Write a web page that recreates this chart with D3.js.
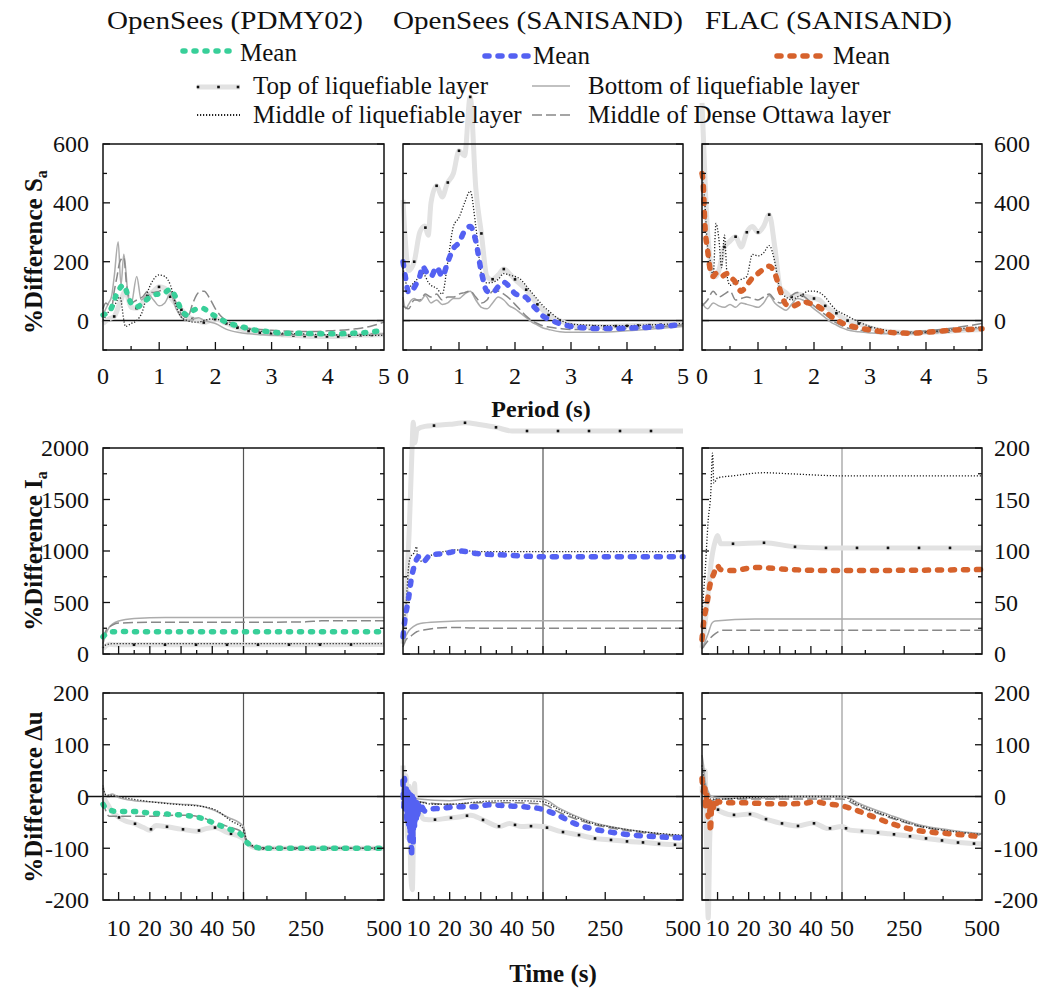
<!DOCTYPE html>
<html>
<head>
<meta charset="utf-8">
<script src="https://cdn.jsdelivr.net/npm/d3@7"></script>
<style>
  body { margin: 0; background: #fff; }
  svg { display: block; }
  text { font-family: "Liberation Serif", "Times New Roman", serif; fill: #111; }
</style>
</head>
<body>
<div id="chart"></div>
<script>
// ---- titles / legend ----
const modelTitles = ["OpenSees (PDMY02)", "OpenSees (SANISAND)", "FLAC (SANISAND)"];
const layerNames = {
  top: "Top of liquefiable layer",
  bot: "Bottom of liquefiable layer",
  mid: "Middle of liquefiable layer",
  ott: "Middle of Dense Ottawa layer"
};

// ---- tick labels ----
const saTicks = [0, 200, 400, 600];
const periodTicks = [0, 1, 2, 3, 4, 5];
const iaTicksBig = [0, 500, 1000, 1500, 2000];
const iaTicksSmall = [0, 50, 100, 150, 200];
const duTicks = [-200, -100, 0, 100, 200];
const timeTicks = [10, 20, 30, 40, 50, 250, 500];
const timeMinor = [15, 25, 35, 45, 125, 375];

// ---- %Difference Sa vs period (s) ----
const saPdmyMean = [[0,19],[0.13,36],[0.25,93],[0.37,121],[0.43,93],[0.52,53],[0.61,47],[0.73,64],[0.9,87],[1.08,93],[1.2,106],[1.29,81],[1.41,31],[1.5,19],[1.62,36],[1.77,42],[1.89,27],[2.01,14],[2.21,-7],[2.45,-20],[2.69,-32],[2.93,-37],[3.23,-43],[3.52,-43],[3.82,-45],[4.12,-45],[4.42,-43],[4.71,-40],[5,-32]];
const saPdmyTop = [[0,-10],[0.1,5],[0.2,14],[0.3,60],[0.4,100],[0.5,45],[0.6,42],[0.7,60],[0.8,85],[0.9,100],[1,115],[1.1,110],[1.2,80],[1.3,55],[1.4,36],[1.5,15],[1.6,5],[1.7,-2],[1.8,-7],[1.9,0],[2,5],[2.2,-10],[2.4,-25],[2.6,-36],[2.8,-42],[3,-46],[3.25,-49],[3.5,-52],[3.75,-54],[4,-54],[4.25,-54],[4.5,-50],[4.75,-49],[5,-48]];
const saPdmyMid = [[0,0],[0.1,30],[0.2,50],[0.3,80],[0.4,-20],[0.5,-10],[0.6,0],[0.7,30],[0.8,100],[0.9,140],[1,155],[1.1,150],[1.2,120],[1.3,50],[1.4,10],[1.5,0],[1.6,-5],[1.7,-5],[1.8,0],[1.9,5],[2,5],[2.1,0],[2.2,-10],[2.4,-22],[2.6,-30],[2.8,-36],[3,-40],[3.5,-45],[4,-48],[4.5,-50],[5,-50]];
const saPdmyBot = [[0,20],[0.05,40],[0.1,60],[0.15,80],[0.2,150],[0.27,268],[0.32,120],[0.37,225],[0.45,80],[0.5,55],[0.6,150],[0.68,70],[0.8,90],[0.9,70],[1,50],[1.1,60],[1.2,90],[1.3,40],[1.4,10],[1.5,0],[1.6,5],[1.7,10],[1.8,0],[1.9,-5],[2,-10],[2.2,-30],[2.4,-40],[2.6,-45],[2.8,-48],[3,-50],[3.5,-50],[4,-50],[4.5,-50],[5,-45]];
const saPdmyOtt = [[0,40],[0.05,60],[0.1,50],[0.15,40],[0.2,100],[0.25,150],[0.3,200],[0.37,215],[0.42,120],[0.5,60],[0.6,70],[0.7,80],[0.8,100],[0.9,95],[1,100],[1.1,105],[1.2,100],[1.3,60],[1.4,20],[1.5,10],[1.6,60],[1.7,95],[1.8,100],[1.9,75],[2,40],[2.1,15],[2.2,0],[2.3,-10],[2.4,-18],[2.6,-26],[2.8,-30],[3,-33],[3.5,-37],[3.75,-37],[4,-35],[4.5,-28],[4.75,-20],[5,-5]];

const saSaniMean = [[0,200],[0.05,140],[0.1,95],[0.15,100],[0.2,112],[0.25,130],[0.3,150],[0.35,185],[0.4,170],[0.45,155],[0.5,150],[0.6,182],[0.7,150],[0.8,200],[0.9,245],[1,265],[1.1,305],[1.2,320],[1.3,270],[1.4,165],[1.5,100],[1.6,95],[1.7,115],[1.8,130],[1.9,115],[2,92],[2.1,85],[2.2,78],[2.3,55],[2.4,35],[2.5,15],[2.6,5],[2.8,-10],[3,-20],[3.25,-25],[3.5,-27],[3.75,-27],[4,-26],[4.25,-24],[4.5,-22],[4.75,-18],[5,-12]];
const saSaniTop = [[0,410],[0.05,250],[0.1,170],[0.2,200],[0.3,300],[0.39,321],[0.45,290],[0.5,400],[0.6,458],[0.7,420],[0.79,466],[0.9,500],[1,577],[1.1,560],[1.2,760],[1.3,450],[1.4,296],[1.5,150],[1.59,139],[1.7,155],[1.8,175],[1.9,160],[2,140],[2.2,105],[2.4,55],[2.6,19],[2.8,0],[3,-15],[3.25,-20],[3.5,-20],[4,-18],[4.5,-15],[5,-12]];
const saSaniMid = [[0,180],[0.05,130],[0.1,110],[0.15,120],[0.2,130],[0.25,140],[0.3,150],[0.35,160],[0.4,150],[0.45,130],[0.5,120],[0.6,110],[0.7,90],[0.8,200],[0.9,320],[1,350],[1.1,400],[1.2,440],[1.3,320],[1.4,160],[1.5,128],[1.6,130],[1.7,140],[1.8,160],[1.9,155],[2,150],[2.1,140],[2.2,118],[2.3,95],[2.4,72],[2.5,50],[2.6,33],[2.8,3],[3,-12],[3.25,-15],[3.5,-17],[4,-17],[4.5,-14],[5,-10]];
const saSaniBot = [[0,80],[0.05,40],[0.1,55],[0.15,70],[0.2,75],[0.3,65],[0.4,85],[0.5,60],[0.6,70],[0.7,55],[0.8,60],[0.9,75],[1,75],[1.1,90],[1.2,100],[1.3,70],[1.4,45],[1.5,40],[1.6,60],[1.7,80],[1.8,70],[1.9,50],[2,40],[2.1,25],[2.2,10],[2.3,-5],[2.4,-15],[2.5,-25],[2.6,-30],[2.8,-38],[3,-40],[3.5,-40],[4,-35],[4.5,-28],[5,-20]];
const saSaniOtt = [[0,50],[0.1,40],[0.2,70],[0.3,70],[0.4,90],[0.5,80],[0.6,90],[0.7,70],[0.8,80],[0.9,80],[1,90],[1.1,95],[1.2,100],[1.3,80],[1.4,60],[1.5,70],[1.6,100],[1.7,100],[1.8,90],[1.9,75],[2,55],[2.1,35],[2.2,15],[2.3,0],[2.4,-10],[2.5,-18],[2.6,-22],[2.8,-27],[3,-30],[3.5,-30],[4,-27],[4.5,-22],[5,-15]];

const saFlacMean = [[0,500],[0.02,470],[0.05,330],[0.1,240],[0.15,170],[0.2,150],[0.25,160],[0.3,160],[0.35,150],[0.4,155],[0.45,160],[0.5,150],[0.6,130],[0.7,100],[0.8,120],[0.9,145],[1,160],[1.1,175],[1.2,185],[1.3,160],[1.4,100],[1.5,55],[1.6,48],[1.7,55],[1.8,65],[1.9,60],[2,55],[2.1,45],[2.2,30],[2.3,15],[2.4,2],[2.5,-8],[2.6,-15],[2.8,-25],[3,-32],[3.25,-38],[3.5,-42],[3.75,-43],[4,-40],[4.25,-36],[4.5,-32],[4.75,-30],[5,-28]];
const saFlacTop = [[0,740],[0.03,600],[0.06,450],[0.1,300],[0.15,200],[0.2,150],[0.25,150],[0.3,170],[0.4,250],[0.5,270],[0.6,285],[0.7,250],[0.8,300],[0.9,320],[1,300],[1.1,320],[1.2,360],[1.3,250],[1.4,110],[1.5,95],[1.6,80],[1.7,90],[1.8,85],[1.9,80],[2,75],[2.1,70],[2.2,50],[2.3,35],[2.4,25],[2.5,10],[2.6,0],[2.8,-10],[3,-25],[3.25,-35],[3.5,-40],[3.75,-42],[4,-40],[4.25,-38],[4.5,-35],[4.75,-32],[5,-30]];
const saFlacMid = [[0,500],[0.05,400],[0.1,250],[0.15,200],[0.2,150],[0.25,330],[0.3,280],[0.35,180],[0.4,290],[0.45,150],[0.5,120],[0.6,130],[0.7,140],[0.8,150],[0.9,225],[1,220],[1.1,230],[1.2,255],[1.3,200],[1.4,100],[1.5,80],[1.6,70],[1.7,80],[1.8,90],[1.9,100],[2,100],[2.1,95],[2.2,80],[2.3,55],[2.4,35],[2.5,25],[2.6,15],[2.8,-5],[3,-20],[3.25,-32],[3.5,-40],[3.75,-42],[4,-40],[4.25,-35],[4.5,-30],[4.75,-25],[5,-22]];
const saFlacBot = [[0,60],[0.1,40],[0.2,60],[0.3,50],[0.4,45],[0.5,55],[0.6,45],[0.7,60],[0.8,55],[0.9,50],[1,45],[1.1,60],[1.2,85],[1.3,60],[1.4,45],[1.5,35],[1.6,55],[1.7,75],[1.8,70],[1.9,55],[2,40],[2.1,25],[2.2,10],[2.3,-5],[2.4,-15],[2.5,-25],[2.6,-32],[2.8,-38],[3,-42],[3.25,-45],[3.5,-45],[4,-42],[4.5,-35],[5,-25]];
const saFlacOtt = [[0,50],[0.1,70],[0.2,100],[0.3,80],[0.4,90],[0.5,100],[0.6,70],[0.7,75],[0.8,80],[0.9,75],[1,70],[1.1,80],[1.2,90],[1.3,70],[1.4,60],[1.5,70],[1.6,85],[1.7,95],[1.8,85],[1.9,70],[2,50],[2.1,35],[2.2,20],[2.3,5],[2.4,-8],[2.5,-18],[2.6,-25],[2.8,-32],[3,-37],[3.25,-40],[3.5,-40],[4,-35],[4.5,-25],[5,-10]];

// ---- %Difference Ia vs time (s) ----
const iaPdmyMean = [[5,168],[6,195],[7,210],[8,216],[10,218],[20,216],[50,216],[200,216],[500,216]];
const iaPdmyTop = [[5,50],[6,80],[7,95],[9,90],[15,90],[50,90],[500,92]];
const iaPdmyMid = [[5,60],[6,90],[8,100],[15,100],[50,100],[500,100]];
const iaPdmyBot = [[5,100],[6,200],[7,260],[8,290],[10,320],[15,345],[25,355],[50,355],[500,355]];
const iaPdmyOtt = [[5,150],[6,230],[7,260],[8,280],[10,300],[20,308],[50,308],[250,312],[300,322],[500,322]];

const iaSaniMean = [[5,168],[5.6,330],[6.7,524],[7.8,750],[8.9,880],[10,945],[11.6,900],[13.7,960],[18,975],[23.4,1000],[28.8,975],[38.5,960],[50,945],[500,945]];
const iaSaniTop = [[5,100],[6,500],[7,1200],[7.8,1900],[8.3,2250],[8.8,2050],[9.5,2180],[12,2210],[20,2230],[25,2245],[30,2225],[35,2200],[40,2165],[50,2165],[500,2165]];
const iaSaniMid = [[5,200],[6,500],[7,900],[7.5,945],[8.5,980],[9.4,1042],[9.6,960],[10.5,900],[13,945],[18,993],[22,1010],[30,993],[50,993],[500,993]];
const iaSaniBot = [[5,100],[6,180],[7,230],[8.3,265],[10.5,297],[17,313],[28,323],[500,323]];
const iaSaniOtt = [[5,68],[6,140],[7.3,168],[9.4,216],[11.6,232],[20,258],[33,249],[500,249]];

const iaFlacMean = [[5,14],[5.5,30],[6.6,49],[7.7,69],[8.8,78],[9.9,86],[10.9,82],[14.7,81],[22.3,84],[33,82],[50,81],[500,82]];
const iaFlacTop = [[5,6],[6,30],[7,60],[8,90],[9.3,110],[10,115],[11,107],[14.6,107],[25,108],[35,104],[45,103],[50,103],[500,103]];
const iaFlacMid = [[5,40],[6,80],[7,130],[7.8,155],[8.4,195],[8.8,166],[10,171],[15,173],[25,176],[33,175],[50,173],[500,173]];
const iaFlacBot = [[5,5],[6,12],[7,20],[8.2,30],[9.2,32],[22,34],[500,34]];
const iaFlacOtt = [[5,5],[7.2,14],[9.4,20],[11.6,23],[500,23]];

// ---- %Difference du vs time (s) ----
const duPdmyMean = [[5,-15],[5.6,-20],[9.4,-29],[14.8,-29],[20.2,-32],[25.7,-34],[30.6,-36],[36.5,-42],[40.8,-52],[46.2,-65],[49.3,-74],[58.6,-87],[91,-98],[110,-100],[500,-100]];
const duPdmyTop = [[5,0],[6,-10],[8,-30],[10,-40],[12,-47],[15,-52],[18,-60],[20,-65],[22,-56],[25,-58],[30,-63],[35,-67],[38,-62],[41,-60],[45,-70],[49,-78],[53,-84],[60,-90],[100,-100],[500,-100]];
const duPdmyMid = [[5,16],[6,3],[8,2],[12.5,-3],[20,-10],[30,-16],[36.5,-19],[41,-26],[46,-47],[50,-63],[60,-84],[91,-98],[110,-100],[500,-100]];
const duPdmyBot = [[5,22],[6,0],[8,5],[10,-2],[15,-8],[20,-10],[30,-15],[35,-17],[40,-25],[45,-40],[50,-58],[60,-85],[100,-100],[500,-100]];
const duPdmyOtt = [[5,-10],[7,-38],[10,-38],[20,-38],[30,-36],[35,-38],[40,-48],[45,-58],[50,-70],[60,-90],[100,-100],[500,-100]];

const duSaniMean = [[5,30],[5.25,-20],[5.5,35],[5.75,-30],[6,20],[6.25,-45],[6.5,15],[6.75,-60],[7,10],[7.25,-85],[7.5,5],[7.75,-116],[8,0],[8.25,-90],[8.5,-5],[8.75,-60],[9,-10],[9.25,-45],[9.5,-12],[9.75,-35],[10,-15],[10.5,-30],[11,-20],[12,-28],[14,-24],[17,-23],[22,-20],[28,-20],[33,-16],[38,-18],[44,-20],[50,-25],[97,-36],[151,-52],[205,-62],[259,-68],[313,-73],[367,-76],[421,-78],[500,-80]];
const duSaniTop = [[5,60],[5.5,-20],[6,40],[6.5,-80],[7,20],[7.5,-150],[8,-180],[8.4,-60],[8.7,25],[9.2,-40],[10,-30],[11.7,-44],[14.9,-45],[19.2,-42],[23.6,-39],[26.8,-36],[30.6,-45],[36,-58],[39.2,-52],[43,-58],[47.3,-57],[50,-58],[108,-68],[162,-74],[216,-81],[270,-84],[324,-87],[378,-89],[432,-92],[500,-94]];
const duSaniMid = [[5,10],[7,-5],[10,-10],[15,-15],[20,-15],[30,-10],[40,-8],[50,-10],[100,-25],[200,-50],[300,-62],[400,-70],[500,-75]];
const duSaniBot = [[5,0],[10,-5],[20,-8],[30,-3],[40,-3],[50,-5],[100,-22],[200,-48],[300,-62],[400,-70],[500,-76]];
const duSaniOtt = [[5,-5],[10,-10],[20,-15],[30,-12],[40,-12],[50,-15],[100,-30],[200,-52],[300,-64],[400,-72],[500,-78]];

const duFlacMean = [[5,35],[5.4,10],[5.8,25],[6.2,-20],[6.6,5],[7,-39],[7.4,-10],[7.7,-68],[8.1,-20],[8.5,-26],[9,-10],[9.5,-18],[10,-10],[12,-12],[16.7,-12],[22,-13],[27.3,-14],[33,-14],[38,-13],[41.2,-10],[45,-14],[50,-18],[93,-26],[150,-39],[207,-52],[264,-62],[320,-68],[377,-71],[434,-74],[500,-78]];
const duFlacTop = [[5,20],[5.5,-20],[6,50],[6.5,-100],[7,-235],[7.5,-80],[8,-30],[9,-20],[10.9,-29],[15.6,-36],[20.4,-34],[25.7,-44],[30.7,-52],[35.9,-57],[40.6,-51],[45.6,-62],[50,-58],[76,-65],[139,-68],[201,-72],[258,-76],[320,-81],[372,-85],[423,-89],[474,-91],[500,-92]];
const duFlacMid = [[5,60],[6,20],[7,-5],[8,-5],[10,-5],[20,-2],[30,0],[40,0],[50,0],[100,-15],[200,-38],[300,-57],[400,-67],[500,-73]];
const duFlacBot = [[5,80],[5.5,60],[6,30],[7,10],[8,0],[10,-2],[20,-3],[30,-2],[40,0],[50,0],[60,0],[100,-12],[200,-35],[300,-55],[400,-65],[500,-72]];
const duFlacOtt = [[5,40],[6,10],[7,-10],[10,-5],[20,-5],[30,-5],[40,-5],[50,-5],[100,-18],[200,-40],[300,-58],[400,-68],[500,-75]];

// ---------------------------------------------------------------
const W = 1048, H = 992;
const svg = d3.select("#chart").append("svg").attr("width", W).attr("height", H);

const cols = [[103, 384], [403, 683], [702, 982]];
const rowY = { sa: [144, 350], ia: [448, 654], du: [693, 900] };
const meanColors = ["#38cf99", "#5461f2", "#d6622c"];
const meanDash = ["2,9", "4,9", "4,9"];

const lineStyle = {
  top: { stroke: "#e2e2e2", width: 5, dash: null },
  bot: { stroke: "#acacac", width: 1.5, dash: null },
  ott: { stroke: "#888", width: 1.5, dash: "10,4" },
  mid: { stroke: "#222", width: 1.3, dash: "1.2,1.8" }
};

const panels = {
  sa: [
    { mean: saPdmyMean, top: saPdmyTop, mid: saPdmyMid, bot: saPdmyBot, ott: saPdmyOtt },
    { mean: saSaniMean, top: saSaniTop, mid: saSaniMid, bot: saSaniBot, ott: saSaniOtt },
    { mean: saFlacMean, top: saFlacTop, mid: saFlacMid, bot: saFlacBot, ott: saFlacOtt }
  ],
  ia: [
    { mean: iaPdmyMean, top: iaPdmyTop, mid: iaPdmyMid, bot: iaPdmyBot, ott: iaPdmyOtt },
    { mean: iaSaniMean, top: iaSaniTop, mid: iaSaniMid, bot: iaSaniBot, ott: iaSaniOtt },
    { mean: iaFlacMean, top: iaFlacTop, mid: iaFlacMid, bot: iaFlacBot, ott: iaFlacOtt }
  ],
  du: [
    { mean: duPdmyMean, top: duPdmyTop, mid: duPdmyMid, bot: duPdmyBot, ott: duPdmyOtt },
    { mean: duSaniMean, top: duSaniTop, mid: duSaniMid, bot: duSaniBot, ott: duSaniOtt },
    { mean: duFlacMean, top: duFlacTop, mid: duFlacMid, bot: duFlacBot, ott: duFlacOtt }
  ]
};

function valueAt(s, xv) {
  const i = d3.bisector((d) => d[0]).left(s, xv);
  if (i <= 0) return s[0][1];
  if (i >= s.length) return s[s.length - 1][1];
  const a = s[i - 1], b = s[i];
  return a[1] + ((b[1] - a[1]) * (xv - a[0])) / (b[0] - a[0]);
}

function xScale(row, c) {
  const [x0, x1] = cols[c];
  if (row === "sa") return d3.scaleLinear().domain([0, 5]).range([x0, x1]);
  return d3.scaleLinear().domain([5, 50, 500]).range([x0, (x0 + x1) / 2, x1]);
}
function yScale(row, c) {
  const [y0, y1] = rowY[row];
  if (row === "sa") return d3.scaleLinear().domain([-100, 600]).range([y1, y0]);
  if (row === "ia") return d3.scaleLinear().domain([0, c === 2 ? 200 : 2000]).range([y1, y0]);
  return d3.scaleLinear().domain([-200, 200]).range([y1, y0]);
}

// zero line across the bottom row
{
  const y = yScale("du", 0);
  svg.append("line").attr("x1", 87).attr("x2", cols[2][1]).attr("y1", y(0)).attr("y2", y(0))
    .attr("stroke", "#111").attr("stroke-width", 1.5);
}

const dotStep = { sa: 11.2, ia: 31, du: 16 };

["sa", "ia", "du"].forEach((row) => {
  panels[row].forEach((p, c) => {
    const x = xScale(row, c), y = yScale(row, c);
    const [x0, x1] = cols[c];
    const [y0, y1] = rowY[row];
    const g = svg.append("g");

    if (row === "sa") {
      g.append("line").attr("x1", x0).attr("x2", x1).attr("y1", y(0)).attr("y2", y(0))
        .attr("stroke", "#111").attr("stroke-width", 1.5);
    } else {
      g.append("line").attr("x1", x(50)).attr("x2", x(50)).attr("y1", y0).attr("y2", y1)
        .attr("stroke", c === 2 ? "#999" : "#555").attr("stroke-width", 1.2);
    }

    const line = d3.line().x((d) => x(d[0])).y((d) => y(d[1])).curve(d3.curveMonotoneX);

    ["top", "bot", "ott", "mid"].forEach((k) => {
      const st = lineStyle[k];
      g.append("path").datum(p[k]).attr("d", line).attr("fill", "none")
        .attr("stroke", st.stroke).attr("stroke-width", st.width)
        .attr("stroke-dasharray", st.dash).attr("stroke-linejoin", "round");
      if (k === "top") {
        const dots = d3.range(x0 + dotStep[row], x1 - 3, dotStep[row]).map((px) => {
          const xv = x.invert(px);
          return [xv, valueAt(p.top, xv)];
        });
        g.selectAll(null).data(dots).join("rect")
          .attr("x", (d) => x(d[0]) - 1.3).attr("y", (d) => y(d[1]) - 1.3)
          .attr("width", 2.6).attr("height", 2.6).attr("fill", "#111");
      }
    });

    g.append("path").datum(p.mean).attr("d", line).attr("fill", "none")
      .attr("stroke", meanColors[c]).attr("stroke-width", 5.5)
      .attr("stroke-dasharray", meanDash[c]).attr("stroke-linecap", "round");

    // frame
    g.append("rect").attr("x", x0).attr("y", y0).attr("width", x1 - x0).attr("height", y1 - y0)
      .attr("fill", "none").attr("stroke", "#111").attr("stroke-width", 1.5);

    // x ticks (inward from bottom)
    let xMaj, xMin;
    if (row === "sa") { xMaj = [1, 2, 3, 4]; xMin = [0.5, 1.5, 2.5, 3.5, 4.5]; }
    else { xMaj = timeTicks.slice(0, -1); xMin = timeMinor; }
    xMaj.forEach((v) => g.append("line").attr("x1", x(v)).attr("x2", x(v)).attr("y1", y1).attr("y2", y1 - 8)
      .attr("stroke", "#111").attr("stroke-width", 1.3));
    xMin.forEach((v) => g.append("line").attr("x1", x(v)).attr("x2", x(v)).attr("y1", y1).attr("y2", y1 - 4)
      .attr("stroke", "#111").attr("stroke-width", 1.3));

    // y ticks (inward, both sides)
    let yMaj, yMin, yLab;
    if (row === "sa") { yMaj = saTicks; yMin = [-100, 100, 300, 500]; yLab = saTicks; }
    else if (row === "ia") {
      yLab = c === 2 ? iaTicksSmall : iaTicksBig;
      const st = yLab[1] / 2;
      yMaj = yLab; yMin = yLab.slice(0, -1).map((v) => v + st);
    } else { yMaj = duTicks; yMin = [-150, -50, 50, 150]; yLab = duTicks; }
    [[yMaj, 7], [yMin, 4]].forEach(([vals, len]) => {
      vals.forEach((v) => {
        g.append("line").attr("x1", x0).attr("x2", x0 + len).attr("y1", y(v)).attr("y2", y(v))
          .attr("stroke", "#111").attr("stroke-width", 1.3);
        g.append("line").attr("x1", x1).attr("x2", x1 - len).attr("y1", y(v)).attr("y2", y(v))
          .attr("stroke", "#111").attr("stroke-width", 1.3);
      });
    });

    // y tick labels
    if (c === 0) {
      yLab.forEach((v) => g.append("text").attr("x", x0 - 14).attr("y", y(v)).attr("dy", "0.35em")
        .attr("text-anchor", "end").attr("font-size", 24).text(v));
    }
    if (c === 2) {
      yLab.forEach((v) => g.append("text").attr("x", x1 + 12).attr("y", y(v)).attr("dy", "0.35em")
        .attr("text-anchor", "start").attr("font-size", 24).text(v));
    }

    // x tick labels
    if (row === "sa") {
      periodTicks.forEach((v) => g.append("text").attr("x", x(v)).attr("y", y1 + 34)
        .attr("text-anchor", "middle").attr("font-size", 24).text(v));
    } else if (row === "du") {
      timeTicks.forEach((v) => g.append("text").attr("x", x(v)).attr("y", y1 + 36)
        .attr("text-anchor", "middle").attr("font-size", 24).text(v));
    }
  });
});

// axis titles
function yTitle(cy, main, sub) {
  const t = svg.append("text").attr("transform", `translate(42,${cy}) rotate(-90)`)
    .attr("text-anchor", "middle").attr("font-size", 25).attr("font-weight", "bold");
  t.append("tspan").text(main);
  t.append("tspan").attr("font-size", 16).attr("dy", 5).text(sub);
}
yTitle(252, "%Difference S", "a");
yTitle(551, "%Difference I", "a");
yTitle(797, "%Difference \u0394u", "");

svg.append("text").attr("x", 541).attr("y", 417).attr("text-anchor", "middle")
  .attr("font-size", 24).attr("font-weight", "bold").text("Period (s)");
svg.append("text").attr("x", 553).attr("y", 982).attr("text-anchor", "middle")
  .attr("font-size", 25).attr("font-weight", "bold").text("Time (s)");

// ---- legend ----
const titleBox = [[107, 256], [393, 290], [705, 247]];
modelTitles.forEach((t, i) => {
  svg.append("text").attr("x", titleBox[i][0]).attr("y", 29).attr("font-size", 26)
    .attr("textLength", titleBox[i][1]).attr("lengthAdjust", "spacingAndGlyphs").text(t);
});

const meanLeg = [[183, 230, 51, 240, 61], [485, 528, 56, 533, 64], [777, 823, 56, 833, 64]];
meanLeg.forEach(([a, b, yy, tx, ty], i) => {
  svg.append("line").attr("x1", a).attr("x2", b).attr("y1", yy).attr("y2", yy)
    .attr("stroke", meanColors[i]).attr("stroke-width", 5.5)
    .attr("stroke-dasharray", meanDash[i]).attr("stroke-linecap", "round");
  svg.append("text").attr("x", tx).attr("y", ty).attr("font-size", 25).text("Mean");
});

const layerLeg = [
  ["top", 197, 240, 87, 253, 94],
  ["bot", 532, 570, 86, 588, 94],
  ["mid", 197, 240, 115, 253, 123],
  ["ott", 532, 572, 115, 588, 123]
];
layerLeg.forEach(([k, a, b, yy, tx, ty]) => {
  const st = lineStyle[k];
  svg.append("line").attr("x1", a).attr("x2", b).attr("y1", yy).attr("y2", yy)
    .attr("stroke", st.stroke).attr("stroke-width", k === "mid" ? 2 : st.width)
    .attr("stroke-dasharray", st.dash);
  if (k === "top") {
    [a + 1, (a + b) / 2, b - 2].forEach((px) => svg.append("rect").attr("x", px - 1.3).attr("y", yy - 1.3)
      .attr("width", 2.6).attr("height", 2.6).attr("fill", "#111"));
  }
  svg.append("text").attr("x", tx).attr("y", ty).attr("font-size", 25).text(layerNames[k]);
});
</script>
</body>
</html>
